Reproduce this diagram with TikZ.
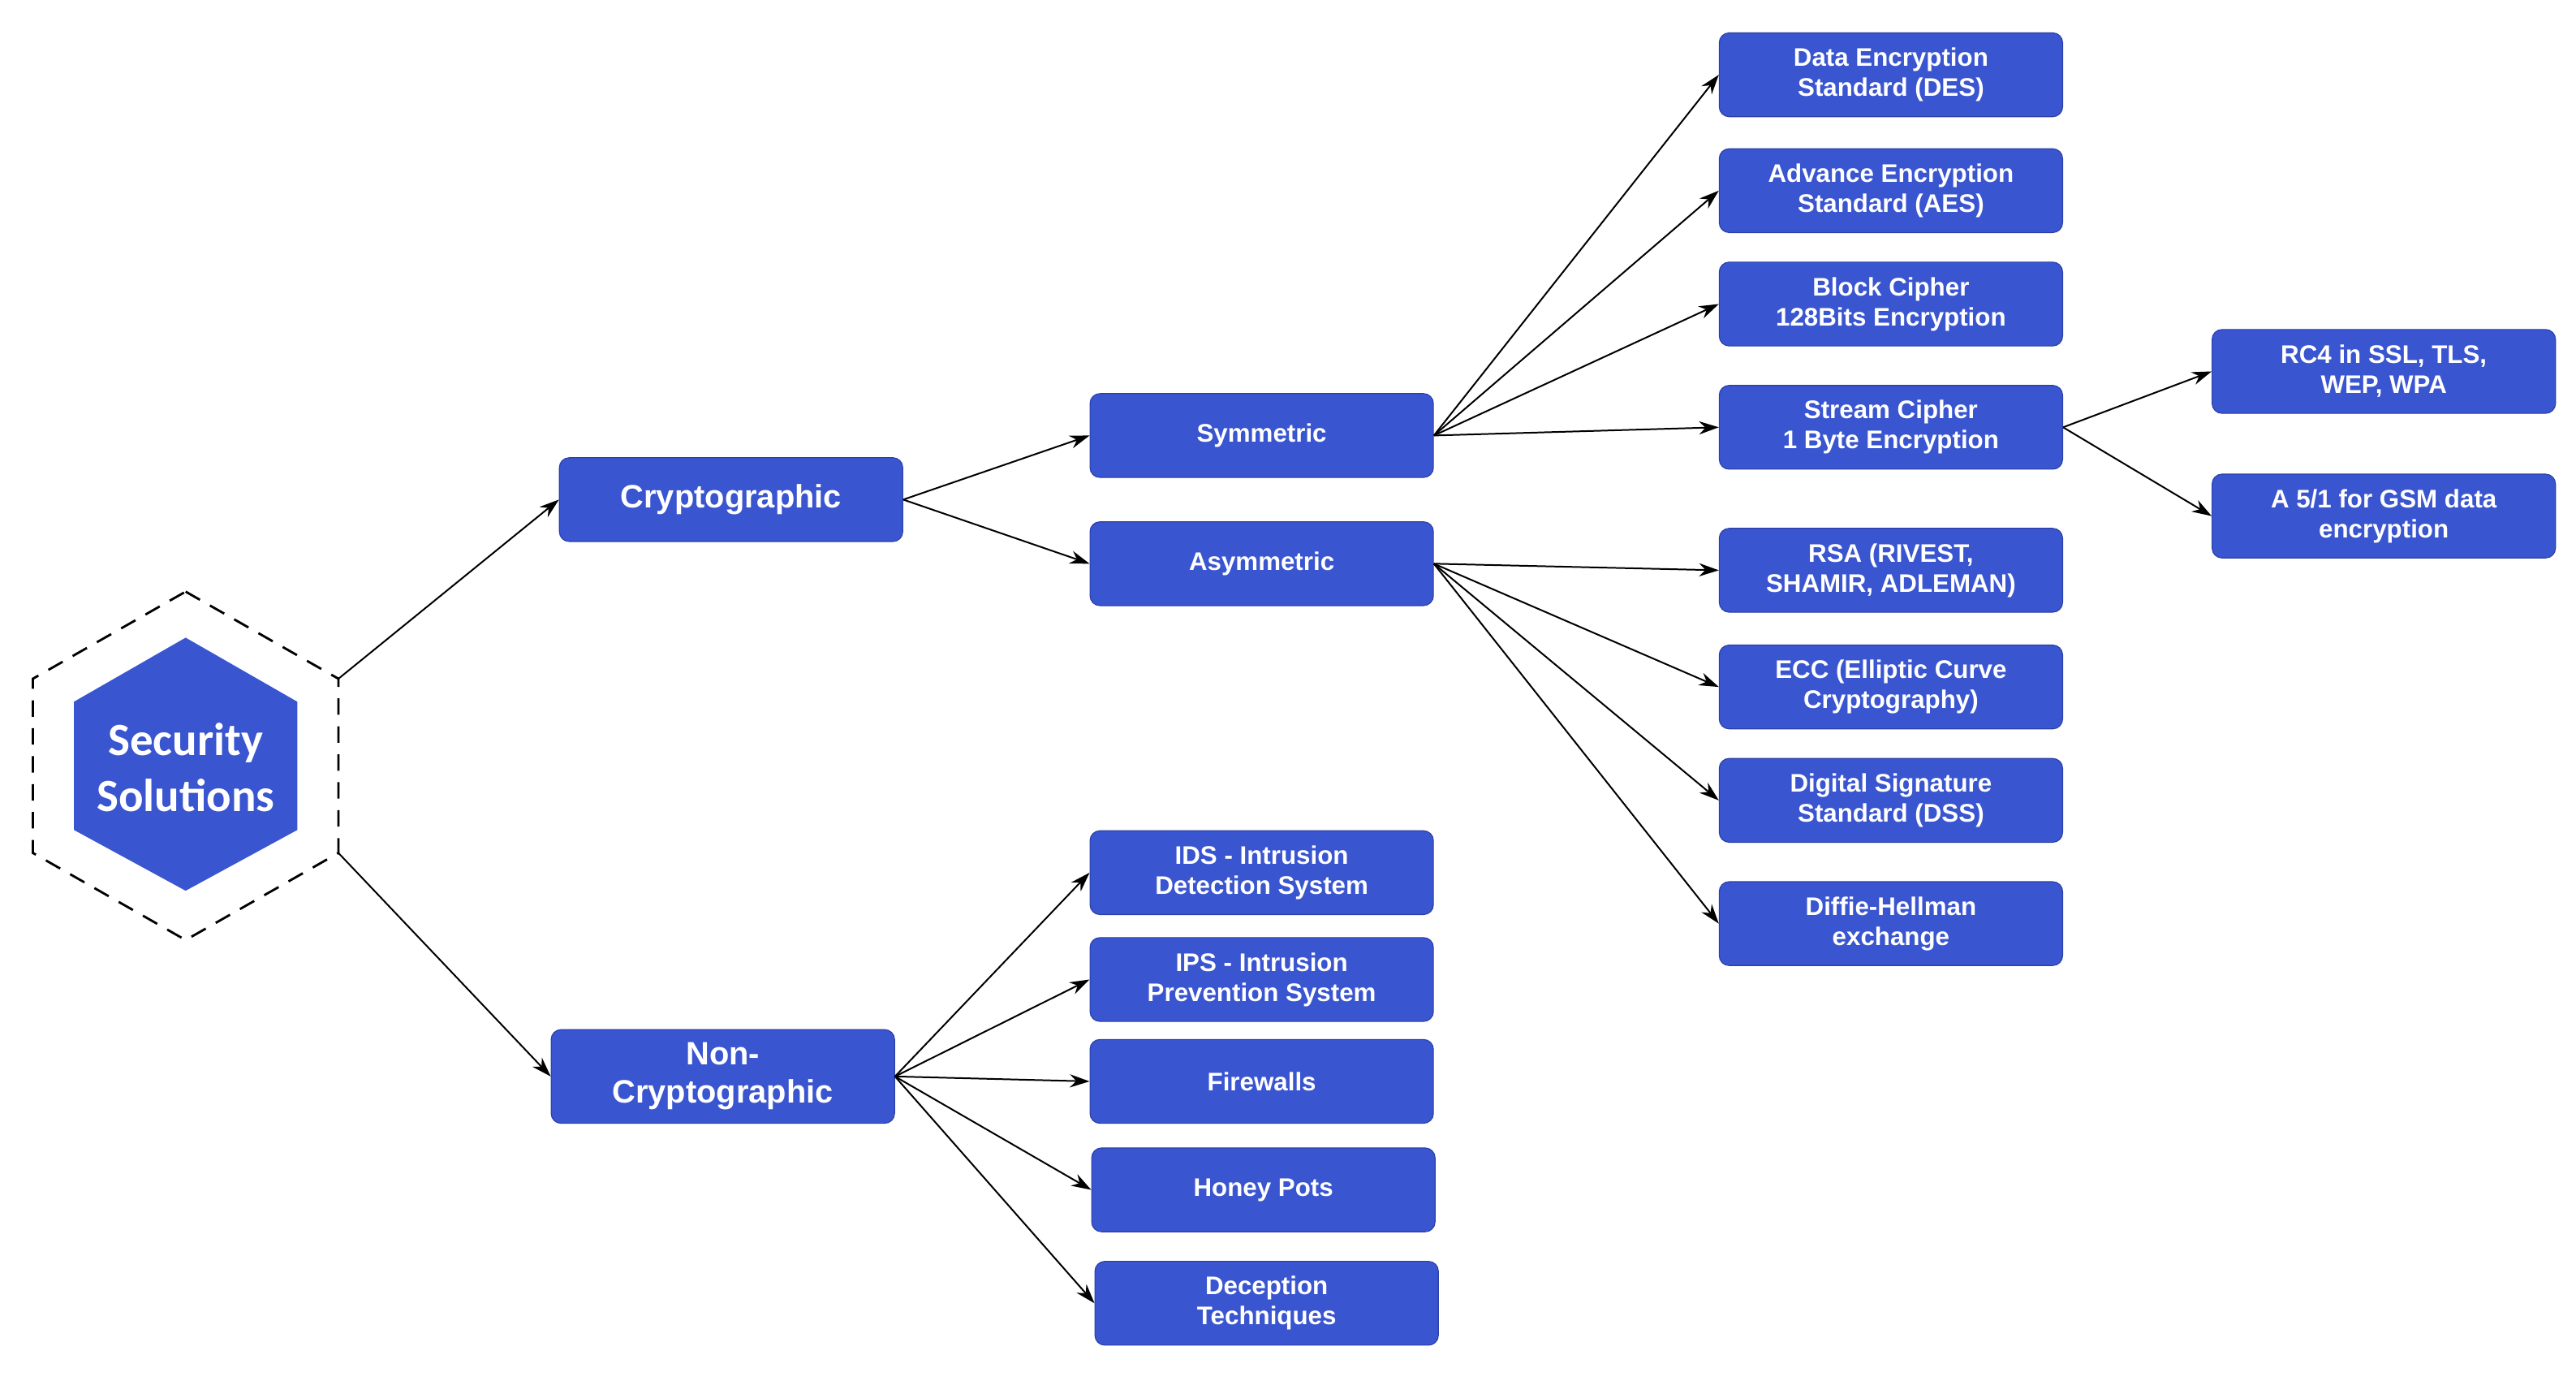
\documentclass[tikz,border=0pt]{standalone}
\usepackage{fontspec}
\setmainfont{Liberation Sans}
\newfontfamily\calib{Carlito}
\usetikzlibrary{arrows.meta}
\definecolor{bx}{HTML}{3A55D0}
\definecolor{bxd}{HTML}{2A3FA8}
\begin{document}
\begin{tikzpicture}[x=0.5mm,y=-0.5mm,
 box/.style={draw=bxd,line width=0.8pt,fill=bx,rounded corners=3mm,minimum width=104.5mm,minimum height=25.5mm,inner sep=0pt,align=center,text=white,font=\fontsize{22}{26}\selectfont\bfseries},
 big/.style={box,font=\fontsize{28}{33}\selectfont\bfseries},
 ar/.style={-{Stealth[length=6mm,width=4mm]},line width=1.4pt}]
\useasboundingbox (0,0) rectangle (1568,840);
% hexagons
\draw[dashed,line width=2pt,dash pattern=on 5mm off 3.5mm] (113,360) coordinate (ht) -- (206,413) coordinate (hur) -- (206,519) coordinate (hlr) -- (113,572) -- (20,519) -- (20,413) -- cycle;
\fill[bx] (113,388) -- (181,427) -- (181,505) -- (113,542) -- (45,505) -- (45,427) -- cycle;
\node[text=white,font=\calib\fontsize{40}{48}\selectfont\bfseries,align=center] (ss) at (113,467) {Security\\Solutions};
% level 1
\node[big] (cr) at (445,304) {Cryptographic};
\node[big,minimum height=28.5mm] (nc) at (440,655) {Non-\\Cryptographic};
% level 2
\node[box] (sym) at (768,265) {Symmetric};
\node[box] (asym) at (768,343) {Asymmetric};
\node[box] (ids) at (768,531) {IDS - Intrusion\\Detection System};
\node[box] (ips) at (768,596) {IPS - Intrusion\\Prevention System};
\node[box] (fw) at (768,658) {Firewalls};
\node[box] (hp) at (769,724) {Honey Pots};
\node[box] (dt) at (771,793) {Deception\\Techniques};
% level 3
\node[box] (des) at (1151,45.5) {Data Encryption\\Standard (DES)};
\node[box] (aes) at (1151,116) {Advance Encryption\\Standard (AES)};
\node[box] (bc) at (1151,185) {Block Cipher\\128Bits Encryption};
\node[box] (sc) at (1151,260) {Stream Cipher\\1 Byte Encryption};
\node[box] (rsa) at (1151,347) {RSA (RIVEST,\\SHAMIR, ADLEMAN)};
\node[box] (ecc) at (1151,418) {ECC (Elliptic Curve\\Cryptography)};
\node[box] (dss) at (1151,487) {Digital Signature\\Standard (DSS)};
\node[box] (dh) at (1151,562) {Diffie-Hellman\\exchange};
% level 4
\node[box] (rc4) at (1451,226) {RC4 in SSL, TLS,\\WEP, WPA};
\node[box] (a51) at (1451,314) {A 5/1 for GSM data\\encryption};
% edges
\draw[ar] (hur) -- (cr.west);
\draw[ar] (hlr) -- (nc.west);
\foreach \t in {sym,asym} \draw[ar] (cr.east) -- (\t.west);
\foreach \t in {des,aes,bc,sc} \draw[ar] (sym.east) -- (\t.west);
\foreach \t in {rsa,ecc,dss,dh} \draw[ar] (asym.east) -- (\t.west);
\foreach \t in {rc4,a51} \draw[ar] (sc.east) -- (\t.west);
\foreach \t in {ids,ips,fw,hp,dt} \draw[ar] (nc.east) -- (\t.west);
\end{tikzpicture}
\end{document}
